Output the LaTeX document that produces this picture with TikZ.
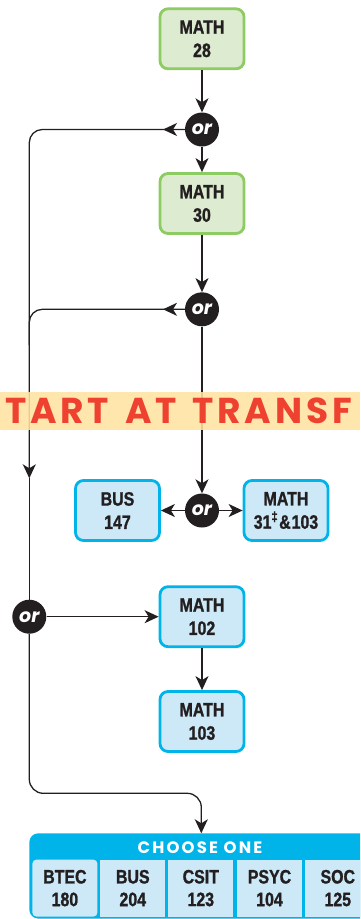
\documentclass[tikz,border=0pt]{standalone}
\usepackage{fontspec}
\setmainfont{Liberation Sans}
\newfontfamily\boxfont[FakeStretch=0.82,FakeBold=1.2]{Liberation Sans}
\newfontfamily\orfont{Poppins}
\newfontfamily\banfont[LetterSpace=10.5]{Poppins}
\newfontfamily\hdfont[LetterSpace=13]{Poppins}
\usetikzlibrary{arrows.meta}
\definecolor{grnfill}{HTML}{DDEBD0}
\definecolor{grnline}{HTML}{8DCB63}
\definecolor{blufill}{HTML}{CDE9F8}
\definecolor{bluline}{HTML}{00B4EA}
\definecolor{ink}{HTML}{231F20}
\definecolor{banfill}{HTML}{FEE3A2}
\definecolor{banred}{HTML}{EE4130}
\tikzset{
  course/.style={draw, line width=2.8pt, rounded corners=8pt, minimum width=84pt, minimum height=60pt, inner sep=0pt, align=center, text=ink, font=\boxfont\bfseries\fontsize{19.4}{23.3}\selectfont},
  grnbox/.style={course, draw=grnline, fill=grnfill},
  blubox/.style={course, draw=bluline, fill=blufill},
  orc/.style={circle, fill=ink, minimum size=34pt, inner sep=0pt, text=white, font=\orfont\bfseries\itshape\fontsize{19}{19}\selectfont},
  conn/.style={draw=ink, line width=1.3pt},
  arr/.style={conn, -{Stealth[length=14pt,width=13pt,inset=4pt]}},
  cell/.style={fill=blufill, minimum width=65pt, minimum height=57pt, inner sep=0pt, align=center, text=ink, font=\boxfont\bfseries\fontsize{19.4}{22.7}\selectfont}
}
\begin{document}
\begin{tikzpicture}[x=1pt,y=-1pt]
\useasboundingbox (0,0) rectangle (360,919);
\clip (0,0) rectangle (360,919);
% nodes
\node[grnbox] (m28) at (202,38.8) {MATH\\28};
\node[orc] (or1) at (202,129.5) {or};
\node[grnbox] (m30) at (202,203.5) {MATH\\30};
\node[orc] (or2) at (202,309.3) {or};
\node[orc] (or3) at (202,510.5) {or};
\node[blubox] (b147) at (117.5,510.5) {BUS\\147};
\node[blubox] (m31) at (286,510.5) {MATH\\31\textsuperscript{‡}\kern1pt\&\kern1pt103};
\node[orc] (or4) at (29.3,616.7) {or};
\node[blubox] (m102) at (202,616.7) {MATH\\102};
\node[blubox] (m103) at (202,721.5) {MATH\\103};
% coordinates
\coordinate (a1) at (163,129.5);
\coordinate (a2) at (163,309.3);
\coordinate (la) at (29.3,478.3);
\coordinate (lb) at (29.3,345);
\coordinate (d1) at (29.3,793.3);
\coordinate (d2) at (201.3,793.3);
\coordinate (d3) at (201.3,833.3);
% connectors
\draw[arr] (m28) -- (or1);
\draw[arr] (or1) -- (m30);
\draw[arr] (m30) -- (or2);
\draw[arr] (or2) -- (or3);
\draw[arr] (or3) -- (b147);
\draw[arr] (or3) -- (m31);
\draw[arr] (or4) -- (m102);
\draw[arr] (m102) -- (m103);
\draw[arr] (or1.west) -- (a1);
\draw[arr] (or2.west) -- (a2);
\draw[arr, rounded corners=13pt] (or1.west) -| (la);
\draw[conn] (la) -- (or4.north);
\draw[conn, rounded corners=13pt] (or2.west) -| (lb);
\draw[arr, rounded corners=14pt] (or4.south) -- (d1) -- (d2) -- (d3);
% banner
\fill[banfill, opacity=0.88] (0,391.7) rectangle (360,430);
\node[anchor=base west, text=banred, inner sep=0pt, font=\banfont\bfseries\fontsize{36}{36}\selectfont] (ban) at (5,423.3) {TART\hspace{16pt}AT\hspace{16pt}TRANSF};
% choose one
\fill[bluline, rounded corners=9pt] (29.3,833.3) rectangle (390,918.6);
\node[anchor=base, text=white, inner sep=0pt, font=\hdfont\bfseries\fontsize{16.5}{16.5}\selectfont] (hdr) at (200,853.3) {CHOOSE ONE};
\node[cell, rounded corners=4pt] (btec) at (64.9,888.1) {BTEC\\180};
\node[cell] (bus) at (132.8,888.1) {BUS\\204};
\node[cell] (csit) at (200.8,888.1) {CSIT\\123};
\node[cell] (psyc) at (269.5,888.1) {PSYC\\104};
\node[cell] (soc) at (337.8,888.1) {SOC\\125};
\end{tikzpicture}
\end{document}
